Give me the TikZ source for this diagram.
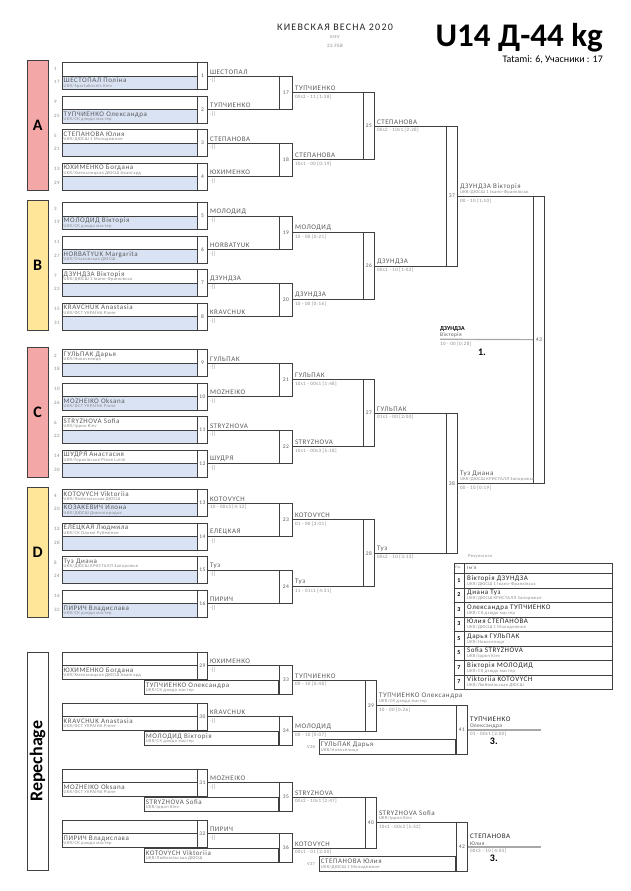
\documentclass[tikz,border=0pt]{standalone}
\usepackage{fontspec}
\setmainfont{Carlito}
\newfontfamily\jdfont[LetterSpace=8]{Carlito}
\newfontfamily\jdtitle[LetterSpace=12]{Carlito}
\usetikzlibrary{positioning}
\definecolor{jdpink}{HTML}{F4A7A7}
\definecolor{jdyellow}{HTML}{FFE699}
\definecolor{jdblue}{HTML}{DAE3F3}
\definecolor{jdline}{HTML}{404040}
\definecolor{jdtext}{HTML}{5A5A5A}
\definecolor{jdsoft}{HTML}{8A8A8A}
\definecolor{jdfinal}{HTML}{A8A8A8}
\newcommand{\jdsize}[1]{\fontsize{#1}{#1}\selectfont}
\newcommand{\ukrc}{UKR/}
\tikzstyle{slotbox}=[draw=jdline,line width=0.8pt,minimum width=135pt,minimum height=13.5pt,inner sep=0pt,anchor=north west]
\tikzstyle{numbox}=[draw=jdline,line width=0.8pt,fill=white,minimum width=10pt,minimum height=27pt,inner sep=0pt,anchor=north west,text=jdtext,font=\jdfont\jdsize{5.5}]
\tikzstyle{rndbox}=[draw=jdline,line width=0.8pt,inner sep=0pt,anchor=north west,text=jdtext,font=\jdfont\jdsize{5.5}]
\tikzstyle{poollabel}=[draw=jdline,minimum width=21pt,minimum height=130pt,inner sep=0pt,anchor=north west,font=\bfseries\jdsize{16}]
\tikzstyle{pname}=[anchor=base west,inner sep=0pt,text=jdtext,font=\jdfont\jdsize{7}]
\tikzstyle{pclub}=[anchor=base west,inner sep=0pt,text=jdsoft,font=\jdfont\jdsize{4.5}]
\tikzstyle{wname}=[anchor=south west,inner sep=0pt,text=jdtext,font=\jdfont\jdsize{7}]
\tikzstyle{wscore}=[anchor=north west,inner sep=0pt,text=jdsoft,font=\jdfont\jdsize{5}]
\tikzstyle{seednum}=[anchor=west,inner sep=0pt,text=jdsoft,font=\jdfont\jdsize{5}]
\tikzstyle{wline}=[draw=jdline,line width=0.8pt]
\tikzstyle{finalline}=[draw=jdfinal,line width=1.2pt]

\begin{document}
\begin{tikzpicture}[x=1pt,y=-1pt]
  \fill[white] (0,0) rectangle (630,891);
  \useasboundingbox (0,0) rectangle (630,891);
  % header
  \node[font=\jdtitle\jdsize{10},text=black!85] (event) at (335,27) {КИЕВСКАЯ ВЕСНА 2020};
  \node[font=\jdfont\jdsize{4.5},text=jdsoft] (city) at (335,37) {KIEV};
  \node[font=\jdfont\jdsize{5},text=jdsoft] (date) at (335,46) {22.FEB};
  \node[anchor=base east,font=\bfseries\jdsize{33},inner sep=0pt] (cat) at (603,47) {U14 Д-44 kg};
  \node[anchor=base east,font=\jdsize{10},inner sep=0pt] (tatami) at (603,63) {Tatami: 6, Учасники : 17};
  % pools
  \foreach \p/\ty/\col in {A/60/jdpink,B/200/jdyellow,C/347/jdpink,D/487/jdyellow}
    {\node[poollabel,fill=\col] (pool\p) at (27,\ty) {\p};}
  \foreach \m/\ty/\seedA/\seedB/\nameA/\clubA/\nameB/\clubB/\w/\s in {
    1/62/1/17/{}/{}/{ШЕСТОПАЛ Поліна}/{\ukrc Spartakovets Kiev}/ШЕСТОПАЛ/{-[]},
    2/95.5/9/25/{}/{}/{ТУПЧИЕНКО Олександра}/{\ukrc СК дзюдо мастер}/ТУПЧИЕНКО/{-[]},
    3/129/5/21/{СТЕПАНОВА Юлия}/{\ukrc ДЮСШ 1 Молодежное}/{}/{}/СТЕПАНОВА/{-[]},
    4/162.5/13/29/{ЮХИМЕНКО Богдана}/{\ukrc Хмельницкая ДЮСШ Авангард}/{}/{}/ЮХИМЕНКО/{-[]},
    5/202/3/19/{}/{}/{МОЛОДИД Вікторія}/{\ukrc СК дзюдо мастер}/МОЛОДИД/{-[]},
    6/235.5/11/27/{}/{}/{HORBATYUK Margarita}/{\ukrc Очаковская ДЮСШ}/HORBATYUK/{-[]},
    7/269/7/23/{ДЗУНДЗА Вікторія}/{\ukrc ДЮСШ 1 Івано-Франківськ}/{}/{}/ДЗУНДЗА/{-[]},
    8/302.5/15/31/{KRAVCHUK Anastasia}/{\ukrc ФСТ УКРАЇНА Рівне}/{}/{}/KRAVCHUK/{-[]},
    9/349/2/18/{ГУЛЬПАК Дарья}/{\ukrc Новоселиця}/{}/{}/ГУЛЬПАК/{-[]},
    10/382.5/10/26/{}/{}/{MOZHEIKO Oksana}/{\ukrc ФСТ УКРАЇНА Рівне}/MOZHEIKO/{-[]},
    11/416/6/22/{STRYZHOVA Sofia}/{\ukrc Ippon Kiev}/{}/{}/STRYZHOVA/{-[]},
    12/449.5/14/30/{ШУДРЯ Анастасия}/{\ukrc Горохівське Рівне Lutsk}/{}/{}/ШУДРЯ/{-[]},
    13/489/4/20/{KOTOVYCH Viktoriia}/{\ukrc Любомльская ДЮСШ}/{КОЗАКЕВИЧ Илона}/{\ukrc ДЮСШ Дивногородок}/KOTOVYCH/{10 - 00s3 [4:12]},
    14/522.5/12/28/{ЕЛЕЦКАЯ Людмила}/{\ukrc СК Олимп Рубежное}/{}/{}/ЕЛЕЦКАЯ/{-[]},
    15/556/8/24/{Туз Диана}/{\ukrc ДЮСШ КРИСТАЛЛ Запорожье}/{}/{}/Туз/{-[]},
    16/589.5/16/32/{}/{}/{ПИРИЧ Владислава}/{\ukrc СК дзюдо мастер}/ПИРИЧ/{-[]}} {
    \node[slotbox] (a\m) at (62,\ty) {};
    \node[slotbox,fill=jdblue] (b\m) at (62,\ty+13.5) {};
    \node[numbox] (m\m) at (197,\ty) {\m};
    \node[seednum] (sa\m) at (54,\ty+6.5) {\seedA};
    \node[seednum] (sb\m) at (54,\ty+20) {\seedB};
    \node[pname] (na\m) at ([xshift=1.5pt,yshift=-7pt]a\m.north west) {\nameA};
    \node[pclub] (ca\m) at ([xshift=1.5pt,yshift=-11.5pt]a\m.north west) {\clubA};
    \node[pname] (nb\m) at ([xshift=1.5pt,yshift=-7pt]b\m.north west) {\nameB};
    \node[pclub] (cb\m) at ([xshift=1.5pt,yshift=-11.5pt]b\m.north west) {\clubB};
    \node[wname] (w\m) at ([xshift=2pt,yshift=1.5pt]m\m.east) {\w};
    \node[wscore] (s\m) at ([xshift=2pt,yshift=-2pt]m\m.east) {\s};
  }
  % repechage
  \node[draw=jdline,fill=white,minimum width=21pt,minimum height=218pt,inner sep=0pt,anchor=north west] (repbox) at (27,652) {};
  \node[rotate=90,font=\bfseries\jdsize{18}] (rep) at (repbox.center) {Repechage};
  \foreach \m/\ty/\nameB/\clubB/\w in {
    29/651.5/{ЮХИМЕНКО Богдана}/{\ukrc Хмельницкая ДЮСШ Авангард}/ЮХИМЕНКО,
    30/702.5/{KRAVCHUK Anastasia}/{\ukrc ФСТ УКРАЇНА Рівне}/KRAVCHUK,
    31/768.5/{MOZHEIKO Oksana}/{\ukrc ФСТ УКРАЇНА Рівне}/MOZHEIKO,
    32/819.5/{ПИРИЧ Владислава}/{\ukrc СК дзюдо мастер}/ПИРИЧ} {
    \node[slotbox] (a\m) at (62,\ty) {};
    \node[slotbox] (b\m) at (62,\ty+13.5) {};
    \node[numbox] (m\m) at (197,\ty) {\m};
    \node[pname] (nb\m) at ([xshift=1.5pt,yshift=-7pt]b\m.north west) {\nameB};
    \node[pclub] (cb\m) at ([xshift=1.5pt,yshift=-11.5pt]b\m.north west) {\clubB};
    \node[wname] (w\m) at ([xshift=2pt,yshift=1.5pt]m\m.east) {\w};
    \node[wscore] (s\m) at ([xshift=2pt,yshift=-2pt]m\m.east) {-[]};
  }
  % later rounds
  \foreach \m/\x/\ty/\boxw/\boxh in {17/279/75.5/13/33.5,18/279/142.5/13/33.5,19/279/215.5/13/33.5,
    20/279/282.5/13/33.5,21/279/362.5/13/33.5,22/279/429.5/13/33.5,23/279/502.5/13/33.5,
    24/279/569.5/13/33.5,25/363/92.25/11/67,26/363/232.25/11/67,27/363/379.25/11/67,
    28/363/519.25/11/67,37/446/125.75/11/140,38/446/412.75/11/140,43/533/195.75/11/287,
    33/279/665/13/29,34/279/716/13/29,35/279/782/13/29,36/279/833/13/29,
    39/365/679.5/11/51,40/365/796.5/11/51,41/456/705/11/49,42/456/822/11/49}
    {\node[rndbox,minimum width=\boxw pt,minimum height=\boxh pt] (m\m) at (\x,\ty) {\m};}
  \foreach \m/\w/\s in {17/ТУПЧИЕНКО/{00s2 - 11 [1:38]},18/СТЕПАНОВА/{10s1 - 00 [0:19]},
    19/МОЛОДИД/{10 - 00 [0:21]},20/ДЗУНДЗА/{10 - 00 [0:16]},21/ГУЛЬПАК/{10s1 - 00s1 [1:48]},
    22/STRYZHOVA/{10s1 - 00s3 [5:18]},23/KOTOVYCH/{01 - 00 [3:01]},24/Туз/{11 - 01s1 [4:31]},
    25/СТЕПАНОВА/{00s2 - 10s1 [2:28]},26/ДЗУНДЗА/{00s1 - 10 [1:02]},27/ГУЛЬПАК/{01s1 - 00 [2:00]},
    28/Туз/{00s2 - 10 [3:13]},33/ТУПЧИЕНКО/{00 - 10 [0:48]},34/МОЛОДИД/{00 - 10 [0:07]},
    35/STRYZHOVA/{00s3 - 10s1 [2:47]},36/KOTOVYCH/{00s1 - 01 [2:00]}} {
    \node[wname] (w\m) at ([xshift=2pt,yshift=1.5pt]m\m.east) {\w};
    \node[wscore] (s\m) at ([xshift=2pt,yshift=-2pt]m\m.east) {\s};
  }
  \foreach \m/\w/\cl/\s in {37/{ДЗУНДЗА Вікторія}/{\ukrc ДЮСШ 1 Івано-Франківськ}/{00 - 10 [1:10]},
    38/{Туз Диана}/{\ukrc ДЮСШ КРИСТАЛЛ Запорожье}/{00 - 10 [0:19]},
    39/{ТУПЧИЕНКО Олександра}/{\ukrc СК дзюдо мастер}/{10 - 00 [0:26]},
    40/{STRYZHOVA Sofia}/{\ukrc Ippon Kiev}/{10s1 - 00s2 [5:52]}} {
    \node[wname] (w\m) at ([xshift=2pt,yshift=6.5pt]m\m.east) {\w};
    \node[pclub,anchor=south west] (c\m) at ([xshift=2pt,yshift=1.5pt]m\m.east) {\cl};
    \node[wscore] (s\m) at ([xshift=2pt,yshift=-2.5pt]m\m.east) {\s};
  }
  % repechage opponents
  \foreach \m/\nameB/\clubB in {33/{ТУПЧИЕНКО Олександра}/{\ukrc СК дзюдо мастер},
    34/{МОЛОДИД Вікторія}/{\ukrc СК дзюдо мастер},35/{STRYZHOVA Sofia}/{\ukrc Ippon Kiev},
    36/{KOTOVYCH Viktoriia}/{\ukrc Любомльская ДЮСШ}} {
    \node[slotbox,minimum width=134pt,minimum height=14pt,anchor=south east] (r\m) at (m\m.south west) {};
    \node[pname] (nr\m) at ([xshift=1.5pt,yshift=-7pt]r\m.north west) {\nameB};
    \node[pclub] (cr\m) at ([xshift=1.5pt,yshift=-11.5pt]r\m.north west) {\clubB};
  }
  \foreach \m/\fn/\gn/\s/\v/\nameB/\clubB in {
    41/ТУПЧИЕНКО/Олександра/{01 - 00s1 [2:00]}/V38/{ГУЛЬПАК Дарья}/{\ukrc Новоселиця},
    42/СТЕПАНОВА/Юлия/{00s3 - 10 [4:05]}/V37/{СТЕПАНОВА Юлия}/{\ukrc ДЮСШ 1 Молодежное}} {
    \node[slotbox,minimum width=136pt,minimum height=15pt,anchor=south east] (r\m) at (m\m.south west) {};
    \node[pname] (nr\m) at ([xshift=1.5pt,yshift=-7.5pt]r\m.north west) {\nameB};
    \node[pclub] (cr\m) at ([xshift=1.5pt,yshift=-12pt]r\m.north west) {\clubB};
    \node[anchor=east,inner sep=0pt,text=jdsoft,font=\jdfont\jdsize{4.5}] (v\m) at ([xshift=-4pt]r\m.west) {\v};
    \coordinate (f\m) at ([xshift=73pt]m\m.east);
    \draw[finalline] (m\m.east) -- (f\m);
    \node[wname,text=black!85] (w\m) at ([xshift=2pt,yshift=8pt]m\m.east) {\fn};
    \node[wname,font=\jdfont\jdsize{5.5}] (g\m) at ([xshift=2pt,yshift=1.5pt]m\m.east) {\gn};
    \node[wscore] (s\m) at ([xshift=2pt,yshift=-2pt]m\m.east) {\s};
    \node[font=\bfseries\jdsize{10}] (pl\m) at ([xshift=26pt,yshift=-11.5pt]m\m.east) {3.};
  }
  % connectors
  \foreach \src/\dst in {1/17,2/17,3/18,4/18,5/19,6/19,7/20,8/20,9/21,10/21,11/22,12/22,
    13/23,14/23,15/24,16/24,17/25,18/25,19/26,20/26,21/27,22/27,23/28,24/28,25/37,26/37,
    27/38,28/38,37/43,38/43,29/33,30/34,31/35,32/36,33/39,34/39,35/40,36/40,39/41,40/42}
    {\draw[wline] (m\src.east) -- (m\src.east -| m\dst.west);}
  % final
  \coordinate (f43) at (440,339.25);
  \draw[finalline] (f43) -- (m43.west);
  \node[anchor=south west,inner sep=0pt,font=\bfseries\jdsize{6}] (gold) at ([yshift=7.5pt]f43) {ДЗУНДЗА};
  \node[wname,font=\jdfont\jdsize{5.5}] (goldname) at ([yshift=1.5pt]f43) {Вікторія};
  \node[wscore] (goldscore) at ([yshift=-2pt]f43) {10 - 00 [0:28]};
  \node[font=\bfseries\jdsize{10}] (place1) at (482,352) {1.};
  % results
  \node[anchor=west,inner sep=0pt,text=jdsoft,font=\jdfont\jdsize{4.5}] (restitle) at (468,556) {Результати};
  \node[draw=jdline,minimum width=158pt,minimum height=126pt,inner sep=0pt,anchor=north west] (restab) at (454,563) {};
  \node[draw=jdline,minimum width=10pt,minimum height=126pt,inner sep=0pt,anchor=north west] (rescol) at (454,563) {};
  \node[draw=jdline,minimum width=158pt,minimum height=10pt,inner sep=0pt,anchor=north west] (reshead) at (454,563) {};
  \node[anchor=west,inner sep=0pt,text=jdsoft,font=\jdfont\jdsize{4}] (hrank) at (455,568) {Пр.};
  \node[anchor=west,inner sep=0pt,text=jdtext,font=\jdfont\jdsize{5}] (hname) at (467,568) {Ім'я};
  \foreach \r/\p/\n/\cl in {1/1/{Вікторія ДЗУНДЗА}/{\ukrc ДЮСШ 1 Івано-Франківськ},
    2/2/{Диана Туз}/{\ukrc ДЮСШ КРИСТАЛЛ Запорожье},3/3/{Олександра ТУПЧИЕНКО}/{\ukrc СК дзюдо мастер},
    4/3/{Юлия СТЕПАНОВА}/{\ukrc ДЮСШ 1 Молодежное},5/5/{Дарья ГУЛЬПАК}/{\ukrc Новоселиця},
    6/5/{Sofia STRYZHOVA}/{\ukrc Ippon Kiev},7/7/{Вікторія МОЛОДИД}/{\ukrc СК дзюдо мастер},
    8/7/{Viktoriia KOTOVYCH}/{\ukrc Любомльская ДЮСШ}} {
    \node[draw=jdline,minimum width=158pt,minimum height=14.5pt,inner sep=0pt,anchor=north west] (row\r) at (454,{573+(\r-1)*14.5}) {};
    \node[inner sep=0pt,font=\bfseries\jdsize{6}] (rk\r) at (459,{580.25+(\r-1)*14.5}) {\p};
    \node[pname,text=black!85,font=\jdfont\jdsize{7}] (rn\r) at (467,{580+(\r-1)*14.5}) {\n};
    \node[pclub] (rc\r) at (467,{585+(\r-1)*14.5}) {\cl};
  }
\end{tikzpicture}
\end{document}
